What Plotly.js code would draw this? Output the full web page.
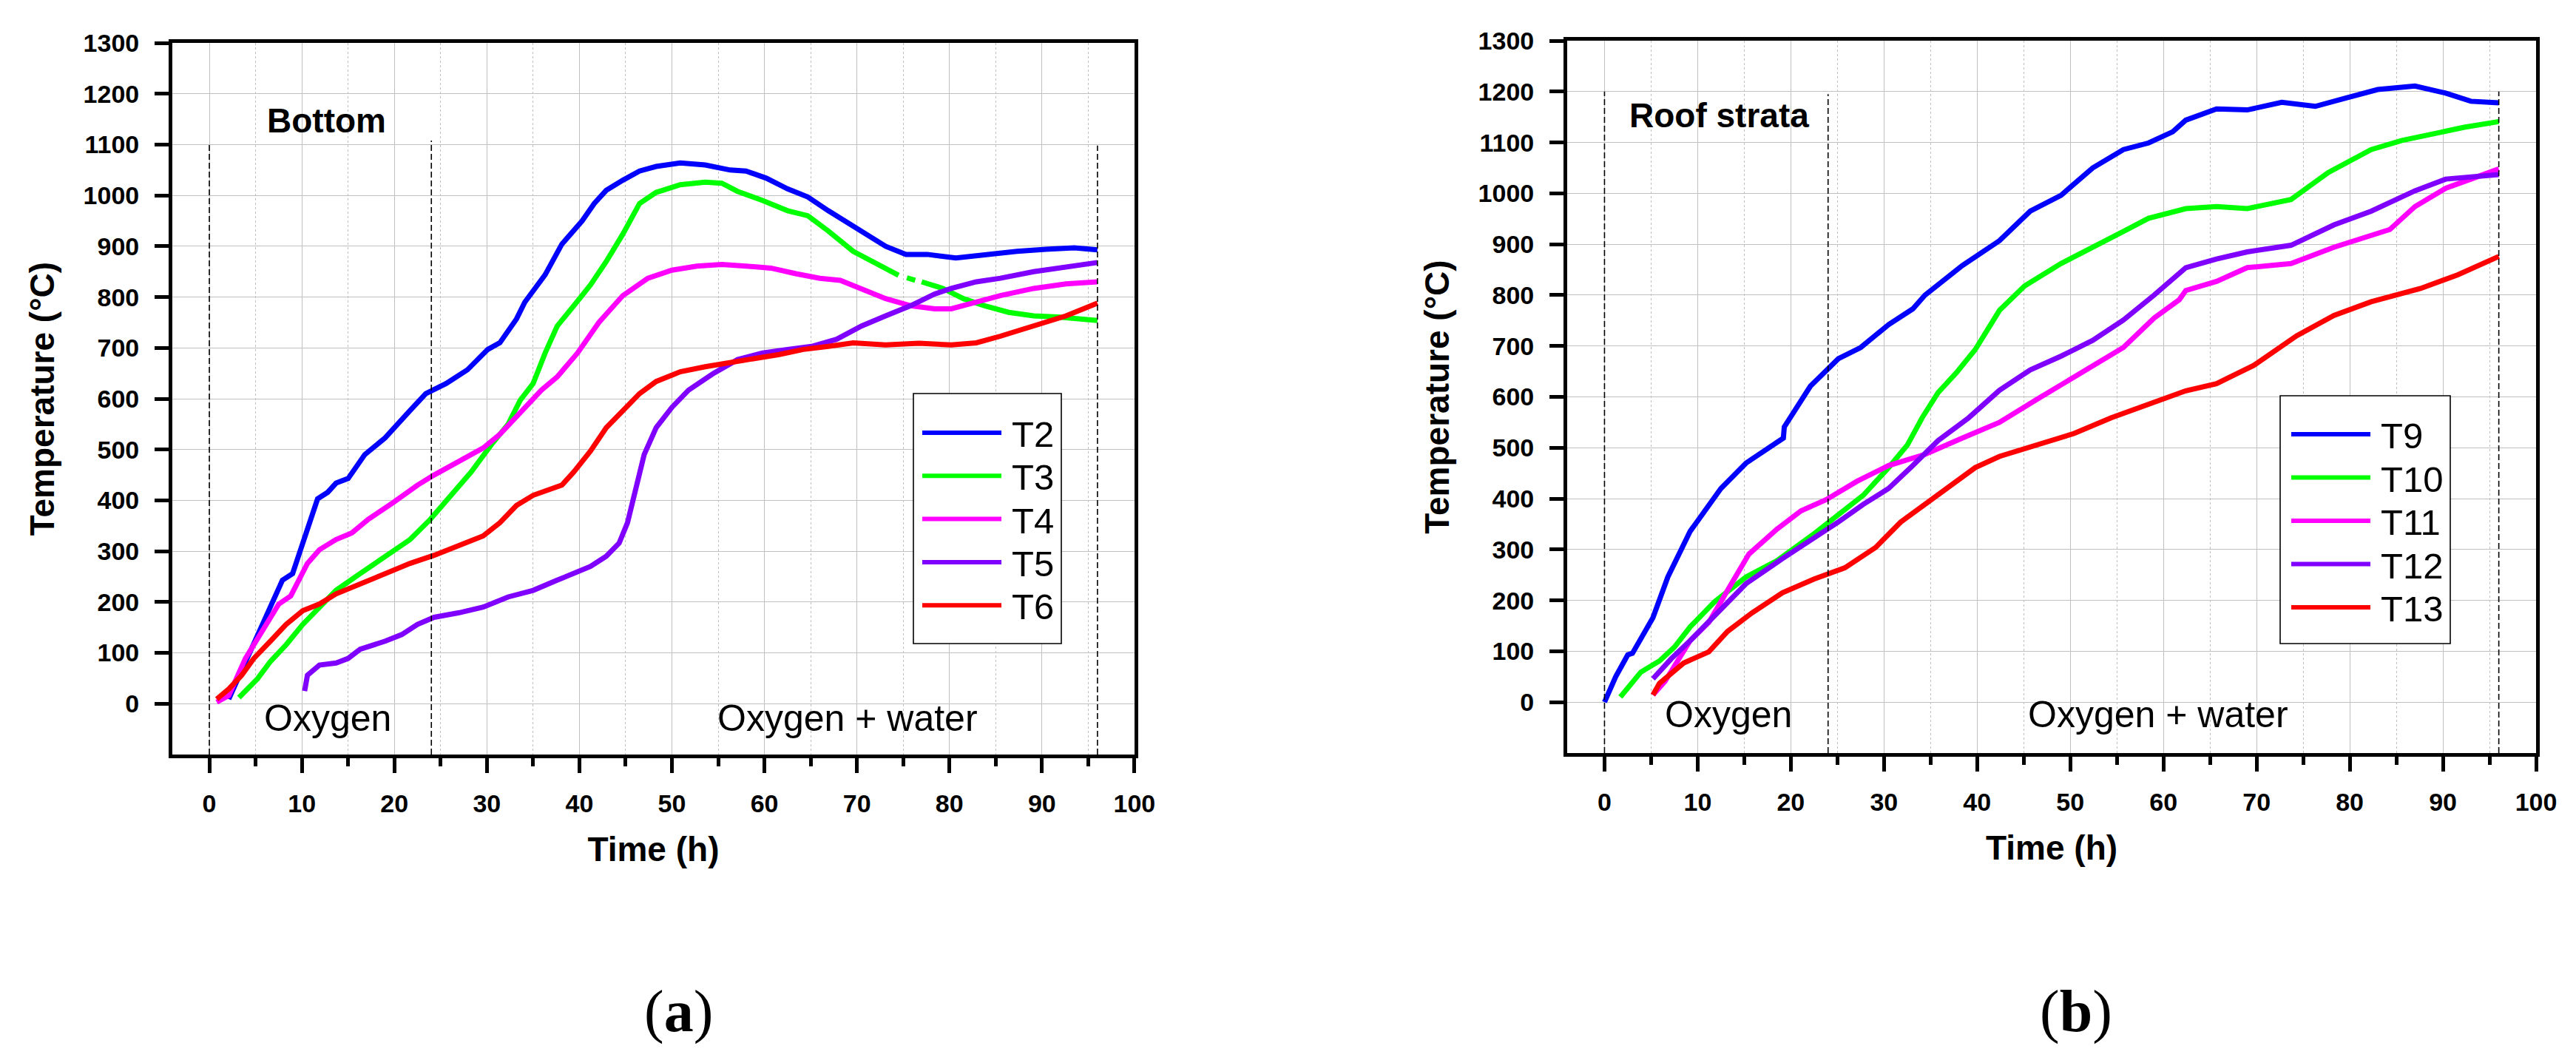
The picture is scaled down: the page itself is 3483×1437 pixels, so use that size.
<!DOCTYPE html>
<html>
<head>
<meta charset="utf-8">
<script src="https://cdn.plot.ly/plotly-3.0.1.min.js"></script>
<style>
  body { margin: 0; background: #fff; }
  #chart { width: 3483px; height: 1437px; }
</style>
</head>
<body>
<div id="chart"></div>
<script>
/* (a) Bottom */
const t2Time = [2.1, 3.9, 5.7, 6.7, 7.9, 9, 10.3, 11.7, 12.8, 13.7, 15, 16.8, 19, 20.3, 21.7, 23.4, 25.6, 27.9, 30.1, 31.4, 33.2, 34.1, 35.4, 36.3, 38.1, 39.4, 40.3, 41.6, 42.9, 44.7, 46.5, 48.3, 50.9, 53.6, 56.3, 58, 60.2, 62.5, 64.7, 66.9, 68.7, 70.9, 73.1, 75.3, 77.6, 80.7, 83.8, 87.3, 90.4, 93.5, 96];
const t2Temp = [9, 83, 156, 196, 243, 256, 330, 403, 416, 434, 443, 490, 523, 550, 577, 610, 630, 657, 697, 710, 757, 790, 824, 844, 904, 930, 950, 984, 1010, 1030, 1048, 1057, 1064, 1060, 1050, 1048, 1034, 1013, 997, 970, 950, 924, 900, 884, 884, 877, 884, 890, 894, 897, 893];

const t3Time = [3.2, 5.2, 6.6, 8.3, 10.1, 11.9, 13.7, 16.3, 19, 21.7, 23.9, 26.1, 28.3, 30.5, 32.3, 33.6, 35, 36.3, 37.6, 39.4, 41.2, 42.9, 44.7, 46.5, 48.3, 50.9, 53.6, 55.4, 57.1, 59.8, 62.5, 64.7, 66.9, 69.6, 72.2, 74.5, 74.9, 75.4, 76.3, 76.6, 77, 79.3, 81.5, 83.8, 86.4, 89.1, 91.7, 96];
const t3Temp = [12, 49, 83, 116, 156, 190, 223, 256, 290, 323, 363, 410, 456, 510, 550, 597, 630, 690, 743, 783, 824, 870, 924, 984, 1006, 1021, 1026, 1024, 1008, 990, 970, 960, 930, 890, 864, 843, null, 838, 833, null, 830, 817, 797, 783, 770, 763, 761, 754];

const t4Time = [0.8, 2.1, 3.9, 5.7, 7.5, 8.8, 10.6, 11.9, 13.7, 15.4, 17.2, 19.9, 22.5, 24.3, 27, 29.6, 31.4, 34.1, 35.9, 37.6, 39.8, 42.1, 44.7, 47.4, 50, 52.7, 55.4, 58, 60.7, 63.4, 66, 68.2, 70.5, 73.1, 75.8, 78.4, 80.2, 82.9, 85.5, 89.1, 92.6, 96];
const t4Temp = [3, 16, 89, 143, 196, 212, 276, 303, 323, 336, 363, 396, 430, 450, 477, 503, 530, 583, 617, 643, 690, 750, 803, 837, 853, 861, 864, 861, 857, 846, 837, 833, 817, 797, 783, 777, 777, 790, 803, 817, 826, 830];

const t5Time = [10.3, 10.6, 11.9, 13.7, 15, 16.3, 19, 20.8, 22.5, 24.3, 27, 29.6, 32.3, 35, 37.6, 39.4, 41.2, 42.9, 44.3, 45.2, 46.1, 47, 48.3, 50, 51.8, 54.5, 57.1, 59.8, 62.5, 65.1, 67.8, 70.5, 73.1, 75.8, 78.4, 80.2, 82.9, 85.5, 89.1, 92.6, 96];
const t5Temp = [25, 56, 76, 80, 89, 107, 123, 136, 156, 170, 179, 190, 210, 223, 243, 256, 270, 290, 316, 356, 423, 490, 543, 583, 617, 650, 677, 690, 697, 703, 717, 743, 763, 783, 806, 817, 830, 837, 850, 860, 868];

const t6Time = [0.8, 2.1, 3.5, 4.8, 6.6, 8.3, 10.1, 11.9, 13.7, 16.3, 19, 21.7, 24.3, 27, 29.6, 31.4, 33.2, 35, 36.7, 38.1, 39.4, 41.2, 42.9, 44.7, 46.5, 48.3, 50.9, 53.6, 56.3, 58.9, 61.6, 64.2, 66.9, 69.6, 73.1, 76.7, 80.2, 82.9, 85.5, 89.1, 92.6, 96];
const t6Temp = [9, 29, 56, 89, 123, 156, 183, 196, 216, 236, 256, 276, 292, 310, 330, 356, 390, 410, 420, 430, 456, 497, 543, 577, 610, 634, 653, 663, 670, 679, 687, 697, 703, 710, 706, 709, 706, 710, 723, 743, 763, 788];

/* (b) Roof strata */
const t9Time = [0, 1.2, 2.5, 3, 5.2, 6.8, 9.2, 12.5, 15.2, 17.8, 19.2, 19.3, 22.1, 25.1, 27.5, 30.5, 33.1, 34.4, 38.4, 42.4, 45.7, 49, 52.4, 55.7, 58.4, 61, 62.4, 65.7, 69, 72.7, 76.3, 79.7, 83, 87, 90.3, 93, 96];
const t9Temp = [0, 50, 93, 96, 166, 246, 336, 420, 470, 500, 519, 541, 621, 675, 697, 742, 773, 800, 858, 907, 965, 996, 1050, 1086, 1099, 1121, 1144, 1166, 1164, 1179, 1171, 1188, 1204, 1211, 1197, 1181, 1178];

const t10Time = [1.7, 3.9, 5.9, 7.5, 9.2, 11.8, 15.2, 18.5, 22.5, 25.1, 27.8, 30.5, 32.5, 34.1, 35.8, 37.8, 39.8, 42.4, 45.1, 49, 53, 55.7, 58.4, 62.4, 65.7, 69, 73.7, 77.7, 82.3, 85.6, 89, 92.3, 96];
const t10Temp = [10, 59, 81, 108, 148, 197, 246, 278, 331, 367, 407, 461, 505, 559, 608, 648, 693, 770, 818, 862, 898, 925, 951, 970, 974, 970, 988, 1041, 1086, 1104, 1117, 1130, 1141];

const t11Time = [5.2, 6.5, 9.2, 11.2, 13.5, 15.5, 18.5, 21.1, 23.8, 27.1, 30.5, 34.4, 38.4, 42.4, 46.4, 50.4, 53, 55.7, 59, 61.7, 62.4, 65.7, 69, 73.7, 78.3, 82.3, 84.3, 87, 90.3, 93, 96];
const t11Temp = [14, 41, 121, 157, 229, 291, 340, 376, 398, 434, 465, 487, 519, 550, 595, 639, 666, 697, 755, 791, 809, 827, 854, 862, 894, 916, 929, 974, 1010, 1028, 1048];

const t12Time = [5.2, 7.2, 9.2, 11.8, 15.2, 19.1, 22.5, 25.1, 27.8, 30.5, 33.1, 35.8, 39.1, 42.4, 45.7, 49, 52.4, 55.7, 59, 62.4, 65.7, 69, 73.7, 78.3, 82.3, 87, 90.3, 96];
const t12Temp = [46, 86, 121, 171, 233, 282, 322, 354, 389, 420, 465, 514, 559, 613, 653, 680, 711, 751, 800, 854, 871, 885, 898, 938, 965, 1005, 1028, 1037];

const t13Time = [5.2, 5.9, 8.5, 11.2, 13.2, 15.8, 19.1, 22.5, 25.8, 29.1, 31.8, 35.8, 39.8, 42.4, 46.4, 50.4, 54.4, 58.4, 62.4, 65.7, 69.7, 74.3, 78.3, 82.3, 87.6, 91.6, 96];
const t13Temp = [14, 37, 77, 99, 139, 175, 215, 242, 264, 304, 354, 407, 461, 483, 505, 528, 559, 586, 612, 626, 662, 720, 760, 787, 813, 840, 876];

/* ticks and phase markers */
const xTicks = [0, 10, 20, 30, 40, 50, 60, 70, 80, 90, 100];
const yTicks = [0, 100, 200, 300, 400, 500, 600, 700, 800, 900, 1000, 1100, 1200, 1300];
const phaseTimes = [0, 24, 96];
const phaseTopsA = [1100, 1108, 1098];
const phaseTopsB = [1200, 1195, 1200];
const phaseLabels = ["Oxygen", "Oxygen + water"];
const phaseLabelXA = [12.8, 69];
const phaseLabelXB = [13.3, 59.4];

const colors = ["#0000ff", "#00ff00", "#ff00ff", "#8000ff", "#ff0000"];
const sans = "Liberation Sans, Arial, sans-serif";
const W = 3483;
const H = 1437;

const seriesA = [
  ["T2", t2Time, t2Temp],
  ["T3", t3Time, t3Temp],
  ["T4", t4Time, t4Temp],
  ["T5", t5Time, t5Temp],
  ["T6", t6Time, t6Temp],
];
const seriesB = [
  ["T9", t9Time, t9Temp],
  ["T10", t10Time, t10Temp],
  ["T11", t11Time, t11Temp],
  ["T12", t12Time, t12Temp],
  ["T13", t13Time, t13Temp],
];

const makeTraces = (series, xa, ya) =>
  series.map(([name, x, y], i) => ({
    name: name,
    x: x,
    y: y,
    xaxis: xa,
    yaxis: ya,
    type: "scatter",
    mode: "lines",
    connectgaps: false,
    showlegend: false,
    line: { color: colors[i], width: 7 },
  }));

const data = [
  ...makeTraces(seriesA, "x", "y"),
  ...makeTraces(seriesB, "x2", "y2"),
];

const xAxisBase = (domain, anchor) => ({
  domain: domain,
  anchor: anchor,
  range: [-4, 100],
  tickvals: xTicks,
  ticks: "outside",
  ticklen: 20,
  tickwidth: 4.5,
  tickcolor: "#000",
  ticklabelstandoff: 12,
  tickfont: { family: sans, size: 34, weight: 700, color: "#000" },
  showline: true,
  mirror: true,
  linewidth: 5,
  linecolor: "#000",
  showgrid: true,
  gridcolor: "#c0c0c0",
  gridwidth: 1.2,
  zeroline: false,
  minor: {
    dtick: 5,
    ticks: "outside",
    ticklen: 11,
    tickwidth: 4.5,
    tickcolor: "#000",
    showgrid: true,
    gridcolor: "#c0c0c0",
    gridwidth: 1.2,
    griddash: "dot",
  },
  title: {
    text: "Time (h)",
    font: { family: sans, size: 46, weight: 700, color: "#000" },
    standoff: 30,
  },
});

const yAxisBase = (domain, anchor) => ({
  domain: domain,
  anchor: anchor,
  range: [-100, 1300],
  tickvals: yTicks,
  ticks: "outside",
  ticklen: 19,
  tickwidth: 4.5,
  tickcolor: "#000",
  ticklabelstandoff: 14,
  tickfont: { family: sans, size: 34, weight: 700, color: "#000" },
  showline: true,
  mirror: true,
  linewidth: 5,
  linecolor: "#000",
  showgrid: true,
  gridcolor: "#c0c0c0",
  gridwidth: 1.2,
  zeroline: false,
  title: {
    text: "Temperature (°C)",
    font: { family: sans, size: 46, weight: 700, color: "#000" },
    standoff: 26,
  },
});

const phaseShapes = (tops, xref, yref) =>
  phaseTimes.map((t, i) => ({
    type: "line",
    xref: xref,
    yref: yref,
    x0: t,
    x1: t,
    y0: -100,
    y1: tops[i],
    line: { color: "#000", width: 1.6, dash: "8px,4px" },
  }));

/* legend boxes drawn in pixel space of the figure */
const legendBoxA = { left: 1235, top: 532, right: 1435, bottom: 870, row0: 585, rowGap: 58.3, line0: 1247, line1: 1354, text: 1366 };
const legendBoxB = { left: 3083, top: 535, right: 3313, bottom: 870, row0: 587, rowGap: 58.5, line0: 3098, line1: 3205, text: 3217 };
const px = (v) => v / W;
const py = (v) => 1 - v / H;

const legendShapes = (series, box) => [
  {
    type: "rect",
    xref: "paper",
    yref: "paper",
    x0: px(box.left),
    x1: px(box.right),
    y0: py(box.top),
    y1: py(box.bottom),
    fillcolor: "#fff",
    line: { color: "#000", width: 1.6 },
  },
  ...series.map((s, i) => ({
    type: "line",
    xref: "paper",
    yref: "paper",
    x0: px(box.line0),
    x1: px(box.line1),
    y0: py(box.row0 + i * box.rowGap),
    y1: py(box.row0 + i * box.rowGap),
    line: { color: colors[i], width: 6 },
  })),
];

const textNote = (text, x, y, xref, yref, xanchor, font) => ({
  text: text,
  x: x,
  y: y,
  xref: xref,
  yref: yref,
  xanchor: xanchor,
  yanchor: "middle",
  showarrow: false,
  font: font,
});

const phaseFont = { family: sans, size: 50, color: "#000" };
const panelFont = { family: sans, size: 46, weight: 700, color: "#000" };
const legendFont = { family: sans, size: 49, color: "#000" };
const letterFont = { family: "Liberation Serif, Times New Roman, serif", size: 80, color: "#000" };

const legendNotes = (series, box) =>
  series.map((s, i) =>
    textNote(s[0], px(box.text), py(box.row0 + i * box.rowGap + 2), "paper", "paper", "left", legendFont)
  );

const annotations = [
  textNote("Bottom", 6.1, 1147, "x", "y", "left", panelFont),
  textNote("Roof strata", 2.5, 1153, "x2", "y2", "left", panelFont),
  ...phaseLabels.map((s, i) => textNote(s, phaseLabelXA[i], -28, "x", "y", "center", phaseFont)),
  ...phaseLabels.map((s, i) => textNote(s, phaseLabelXB[i], -24, "x2", "y2", "center", phaseFont)),
  ...legendNotes(seriesA, legendBoxA),
  ...legendNotes(seriesB, legendBoxB),
  textNote("(<b>a</b>)", 0.2633, 0.0487, "paper", "paper", "center", letterFont),
  textNote("(<b>b</b>)", 0.806, 0.0487, "paper", "paper", "center", letterFont),
];

const layout = {
  width: W,
  height: H,
  margin: { l: 0, r: 0, t: 0, b: 0 },
  paper_bgcolor: "#fff",
  plot_bgcolor: "#fff",
  showlegend: false,
  xaxis: xAxisBase([0.0669, 0.4404], "y"),
  yaxis: yAxisBase([0.2902, 0.9596], "x"),
  xaxis2: xAxisBase([0.6084, 0.9845], "y2"),
  yaxis2: yAxisBase([0.2916, 0.9617], "x2"),
  shapes: [
    ...phaseShapes(phaseTopsA, "x", "y"),
    ...phaseShapes(phaseTopsB, "x2", "y2"),
    ...legendShapes(seriesA, legendBoxA),
    ...legendShapes(seriesB, legendBoxB),
  ],
  annotations: annotations,
};

const config = { displayModeBar: false, responsive: false };

Plotly.newPlot("chart", data, layout, config);
</script>
</body>
</html>
